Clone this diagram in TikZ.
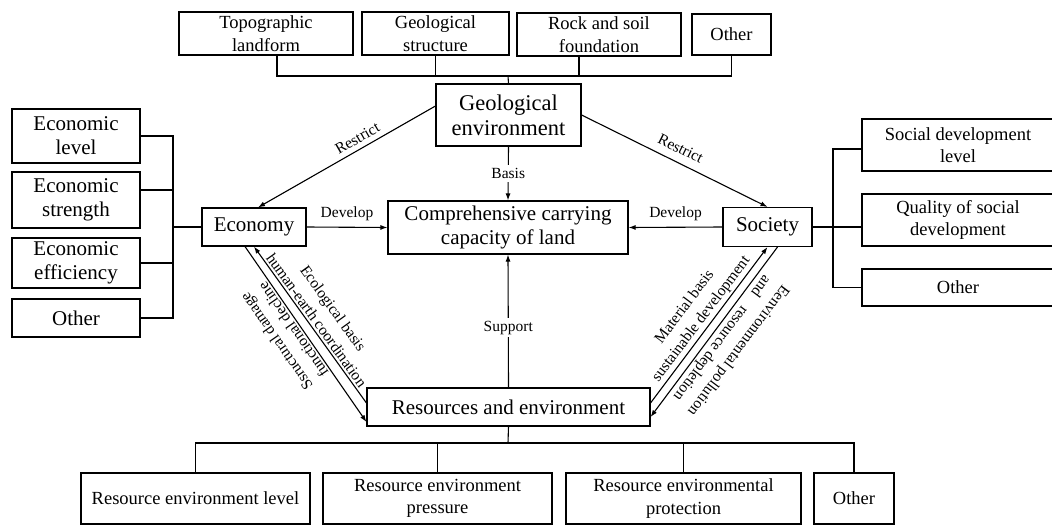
\documentclass[tikz,border=0pt]{standalone}
\usepackage{fontspec}
\setmainfont{Liberation Serif}
\usepackage{tikz}
\usetikzlibrary{arrows.meta}
\newcommand{\txtS}{\fontsize{18.5}{22.5}\selectfont}
\newcommand{\txtL}{\fontsize{21}{24}\selectfont}
\newcommand{\txtG}{\fontsize{22.5}{25}\selectfont}
\newcommand{\txtlbl}{\fontsize{15.5}{20.5}\selectfont}

\begin{document}
\begin{tikzpicture}[x=1pt, y=-1pt, line width=1.1pt, >={Latex[length=7pt, width=5pt]},
        box/.style={draw, align=center, inner sep=0pt},
        lbl/.style={font=\txtlbl, inner sep=2pt}]
        \useasboundingbox (0,0) rectangle (1052,527);
        \node [box, font=\txtS, minimum width=174, minimum height=43] (topo) at (266,33.5) {Topographic\\landform};
        \node [box, font=\txtS, minimum width=147, minimum height=43] (geostruct) at (435.5,33.5) {Geological\\structure};
        \node [box, font=\txtS, minimum width=164, minimum height=43] (rock) at (599,34.5) {Rock and soil\\foundation};
        \node [box, font=\txtS, minimum width=79, minimum height=41] (othertop) at (731.5,34.5) {Other};
        \node [box, font=\txtG, minimum width=145, minimum height=62] (geoenv) at (508.5,115) {Geological\\environment};
        \node [box, font=\txtL, minimum width=128, minimum height=54] (econlevel) at (76,136) {Economic\\level};
        \node [box, font=\txtL, minimum width=128, minimum height=56] (econstrength) at (76,200) {Economic\\strength};
        \node [box, font=\txtL, minimum width=128, minimum height=50] (econeff) at (76,263) {Economic\\efficiency};
        \node [box, font=\txtL, minimum width=128, minimum height=38] (econother) at (76,318) {Other};
        \node [box, font=\txtL, minimum width=104, minimum height=38] (economy) at (254,227) {Economy};
        \node [box, font=\txtL, minimum width=240, minimum height=53] (land) at (508,227.5) {Comprehensive carrying\\capacity of land};
        \node [box, font=\txtL, minimum width=89, minimum height=39] (society) at (767.5,227) {Society};
        \node [box, font=\txtS, minimum width=192, minimum height=52] (soclevel) at (958,145) {Social development\\level};
        \node [box, font=\txtS, minimum width=192, minimum height=52] (socquality) at (958,220) {Quality of social\\development};
        \node [box, font=\txtS, minimum width=192, minimum height=37] (socother) at (958,287.5) {Other};
        \node [box, font=\txtL, minimum width=283, minimum height=38] (resenv) at (508.5,407) {Resources and environment};
        \node [box, font=\txtS, minimum width=229, minimum height=51] (reslevel) at (195.5,498.5) {Resource environment level};
        \node [box, font=\txtS, minimum width=229, minimum height=51] (respressure) at (437.5,498.5) {Resource environment\\pressure};
        \node [box, font=\txtS, minimum width=235, minimum height=51] (resprotect) at (683.5,498.5) {Resource environmental\\protection};
        \node [box, font=\txtS, minimum width=80, minimum height=51] (resother) at (854,498.5) {Other};
        \coordinate (topbus) at (508,76);
        \coordinate (leftbus) at (173,227);
        \coordinate (rightbus) at (833,227);
        \coordinate (botbus) at (508,443);
        \draw ([xshift=11pt]topo.south) |- (topbus) -| (othertop.south);
        \draw (geostruct.south) -- (geostruct.south |- topbus);
        \draw ([xshift=-20pt]rock.south) -- ([xshift=-20pt]rock.south |- topbus);
        \draw (geoenv.north) -- (topbus);
        \draw (econlevel.east) -| (leftbus) |- (econother.east);
        \draw ([yshift=10pt]econstrength.east) -- ([yshift=10pt]econstrength.east -| leftbus);
        \draw (econeff.east) -- (econeff.east -| leftbus);
        \draw (leftbus) -- (economy.west);
        \draw ([yshift=-4pt]soclevel.west) -| (rightbus) |- (socother.west);
        \draw (society.east) -- (society.east -| socquality.west);
        \draw (resenv.south) -- (botbus);
        \draw (reslevel.north) |- (botbus) -| (resother.north);
        \draw (respressure.north) -- (respressure.north |- botbus);
        \draw (resprotect.north) -- (resprotect.north |- botbus);
        \draw [<-] ([xshift=4pt]economy.north) -- ([yshift=9pt]geoenv.west) node [lbl, pos=0.59, sloped, above=3pt] {Restrict};
        \draw [->] (geoenv.east) -- (society.north) node [lbl, pos=0.5, sloped, above=6pt] {Restrict};
        \draw [->] (geoenv.south) -- (land.north) node [lbl, midway, fill=white, inner sep=3pt] {Basis};
        \draw [->] (resenv.north) -- (land.south) node [lbl, pos=0.45, fill=white, inner sep=3pt] {Support};
        \draw [->] (economy.east) -- (land.west) node [lbl, midway, above=4pt] {Develop};
        \draw [->] (society.west) -- (land.east) node [lbl, midway, above=4pt] {Develop};
        \draw [<-] (economy.south) -- ([yshift=4pt]resenv.west) node [lbl, midway, sloped, above, align=center] {Ecological basis\\human-earth coordination};
        \draw [<-] ([yshift=-15pt]resenv.west) -- ([xshift=-9pt]economy.south) node [lbl, pos=0.55, sloped, allow upside down, above, align=center] {Ssructural damage\\functional decline};
        \draw [->] ([yshift=4pt]resenv.east) -- (society.south) node [lbl, midway, sloped, above, align=center] {Material basis\\sustainable development};
        \draw [->] ([xshift=10pt]society.south) -- ([yshift=-10pt]resenv.east) node [lbl, midway, sloped, allow upside down, above, align=center] {Eenvironmental pollution\\and\quad resource depletion};
\end{tikzpicture}
\end{document}
